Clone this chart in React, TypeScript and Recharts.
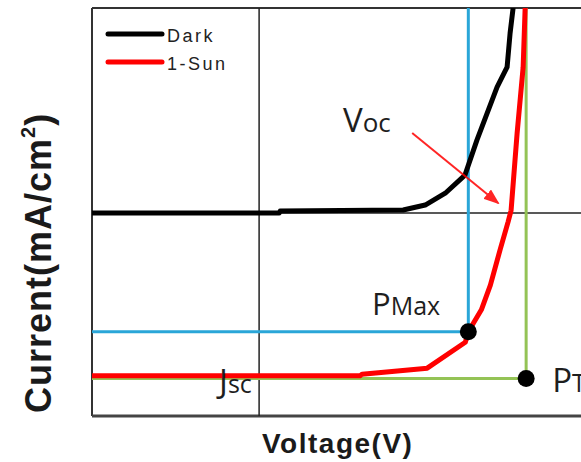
import React from "react";
import {
  LineChart,
  Line,
  XAxis,
  YAxis,
  ReferenceLine,
  ReferenceDot,
} from "recharts";

// dark I-V curve (voltage, current density)
const darkV = [-0.5, 0.06, 0.063, 0.431, 0.497, 0.557, 0.616, 0.652, 0.712, 0.742, 0.751, 0.76];
const darkJ = [0, 0, 0.36, 0.55, 1.45, 3.6, 6.9, 13.3, 22.9, 26.5, 32.7, 37.27];

// illuminated (1-Sun) curve
const sunV = [-0.5, 0.302, 0.308, 0.503, 0.617, 0.626, 0.665, 0.692, 0.721, 0.745, 0.754, 0.772, 0.79, 0.796];
const sunJ = [-29.6, -29.6, -29.3, -28.2, -23.5, -21.6, -17.6, -13.1, -6.7, -1.6, 0.5, 14.5, 26.5, 37.27];

const seriesNames = ["Dark", "1-Sun"];
const vRange = [-0.5, 1.02];
const jRange = [-36.9, 37.27];

const pMax = { v: 0.626, j: -21.6 };
const pT = { v: 0.799, j: -30.1 };
const arrowFrom = { v: 0.458, j: 14.55 };
const arrowTo = { v: 0.715, j: 1.82 };

const labelMain = ["V", "P", "J", "P"];
const labelSub = ["oc", "Max", "sc", "T"];
const labelPos = [
  { v: 0.251, j: 14.73, size: 33, sub: 26 },
  { v: 0.338, j: -18.55, size: 31, sub: 25 },
  { v: -0.12, j: -32.8, size: 33, sub: 25 },
  { v: 0.877, j: -32.5, size: 33, sub: 25 },
];

const darkData = darkV.map((v, i) => ({ v, j: darkJ[i] }));
const sunData = sunV.map((v, i) => ({ v, j: sunJ[i] }));

const BLUE = "#2aa6d8";
const GREEN = "#94c356";
const RED = "#ff0000";

function Arrow(props: any) {
  const { x1, y1, x2, y2 } = props;
  return (
    <g>
      <defs>
        <marker id="arrowHead" markerWidth="16" markerHeight="12" refX="14" refY="6" orient="auto" markerUnits="userSpaceOnUse">
          <path d="M0,0 L16,6 L0,12 Z" fill={RED} />
        </marker>
      </defs>
      <line x1={x1} y1={y1} x2={x2} y2={y2} stroke={RED} strokeWidth={2} opacity={0.85} markerEnd="url(#arrowHead)" />
    </g>
  );
}

function makeLabel(i: number) {
  return (props: any) => (
    <text x={props.cx} y={props.cy} fill="#1e1e1e" fontFamily="'Open Sans', sans-serif" fontSize={labelPos[i].size}>
      {labelMain[i]}
      <tspan fontSize={labelPos[i].sub}>{labelSub[i]}</tspan>
    </text>
  );
}

export default function App() {
  return (
    <div style={{ position: "absolute", left: 0, top: 0, width: 581, height: 462, overflow: "hidden", background: "#fff" }}>
      <LineChart width={620} height={462} margin={{ top: 8, right: 20, bottom: 46, left: 92 }}>
        <XAxis type="number" dataKey="v" domain={vRange} allowDataOverflow hide />
        <YAxis type="number" dataKey="j" domain={jRange} allowDataOverflow hide />
        {/* frame */}
        <ReferenceLine x={vRange[0]} stroke="#333" strokeWidth={2} />
        <ReferenceLine y={jRange[1]} stroke="#333" strokeWidth={2} />
        <ReferenceLine y={jRange[0]} stroke="#444" strokeWidth={3} />
        {/* zero axes */}
        <ReferenceLine x={0} stroke="#222" strokeWidth={1.5} />
        <ReferenceLine y={0} stroke="#222" strokeWidth={1.5} />
        {/* Pmax and Voc/Jsc guides */}
        <ReferenceLine segment={[{ x: pMax.v, y: jRange[1] }, { x: pMax.v, y: pMax.j }]} stroke={BLUE} strokeWidth={3} />
        <ReferenceLine segment={[{ x: vRange[0], y: pMax.j }, { x: pMax.v, y: pMax.j }]} stroke={BLUE} strokeWidth={3} />
        <ReferenceLine segment={[{ x: pT.v, y: jRange[1] }, { x: pT.v, y: pT.j }]} stroke={GREEN} strokeWidth={3} />
        <ReferenceLine segment={[{ x: vRange[0], y: pT.j }, { x: pT.v, y: pT.j }]} stroke={GREEN} strokeWidth={3} />
        <Line data={darkData} dataKey="j" name={seriesNames[0]} type="linear" stroke="#000" strokeWidth={5} dot={false} strokeLinejoin="round" isAnimationActive={false} />
        <Line data={sunData} dataKey="j" name={seriesNames[1]} type="linear" stroke={RED} strokeWidth={5} dot={false} strokeLinejoin="round" isAnimationActive={false} />
        <ReferenceLine segment={[{ x: arrowFrom.v, y: arrowFrom.j }, { x: arrowTo.v, y: arrowTo.j }]} shape={Arrow} />
        <ReferenceDot x={pMax.v} y={pMax.j} r={8.5} fill="#000" stroke="none" />
        <ReferenceDot x={pT.v} y={pT.j} r={8.5} fill="#000" stroke="none" />
        {labelPos.map((p, i) => (
          <ReferenceDot key={i} x={p.v} y={p.j} r={0} shape={makeLabel(i)} />
        ))}
      </LineChart>
      <svg width={581} height={462} style={{ position: "absolute", left: 0, top: 0, pointerEvents: "none" }}>
        {/* legend */}
        <line x1={108} y1={34} x2={162} y2={34} stroke="#000" strokeWidth={5} strokeLinecap="round" />
        <text x={167} y={42} fontFamily="'Liberation Sans', Arial, sans-serif" fontSize={18} letterSpacing={2.5} fill="#222">
          {seriesNames[0]}
        </text>
        <line x1={108} y1={62} x2={162} y2={62} stroke={RED} strokeWidth={5} strokeLinecap="round" />
        <text x={167} y={70} fontFamily="'Liberation Sans', Arial, sans-serif" fontSize={18} letterSpacing={2.5} fill="#222">
          {seriesNames[1]}
        </text>
        {/* axis titles */}
        <text x={262} y={453} fontFamily="'Liberation Sans', Arial, sans-serif" fontWeight="bold" fontSize={28} letterSpacing={1.5} fill="#1a1a1a">
          Voltage(V)
        </text>
        <text transform="translate(51,413) rotate(-90)" fontFamily="'Liberation Sans', Arial, sans-serif" fontWeight="bold" fontSize={36} letterSpacing={1} fill="#1a1a1a">
          Current(mA/cm<tspan fontSize={20} dy={-16}>2</tspan>
          <tspan dy={16}>)</tspan>
        </text>
      </svg>
    </div>
  );
}
